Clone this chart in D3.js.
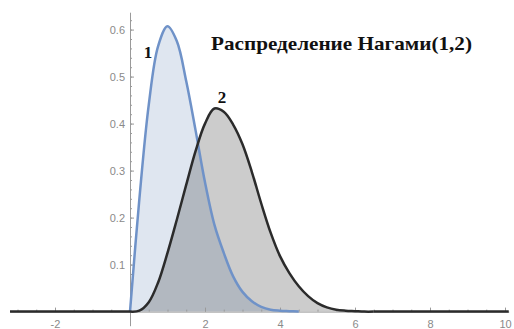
<!DOCTYPE html>
<html>
<head>
<meta charset="utf-8">
<script src="https://cdn.jsdelivr.net/npm/d3@7"></script>
<style>
  body { margin: 0; background: #fff; }
  .tick text { fill: #8a8a8a; font-family: "Liberation Sans", Arial, sans-serif; font-size: 11px; }
  .tick line { stroke: #9a9a9a; }
  .domain { stroke: #9a9a9a; }
  .lbl { font-family: "Liberation Serif", "DejaVu Serif", serif; font-weight: bold; fill: #111; }
</style>
</head>
<body>
<div class="chart" style="width:514px;height:329px"></div>
<script>
// values, x step 0.25 from 0
const xs1 = [0, 0.25, 0.5, 0.75, 1.0, 1.25, 1.5, 1.75, 2.0, 2.25, 2.5, 2.75, 3.0, 3.25, 3.5, 3.75, 4.0, 4.25, 4.5];
const ys1 = [0, 0.24, 0.44, 0.565, 0.607, 0.575, 0.49, 0.385, 0.275, 0.185, 0.125, 0.075, 0.042, 0.022, 0.01, 0.004, 0.002, 0.001, 0];

const xs2 = [0, 0.25, 0.5, 0.75, 1.0, 1.25, 1.5, 1.75, 2.0, 2.25, 2.5, 2.75, 3.0, 3.25, 3.5, 3.75, 4.0, 4.25, 4.5, 4.75, 5.0, 5.25, 5.5, 5.75, 6.0, 6.25, 6.5];
const ys2 = [0, 0.002, 0.02, 0.062, 0.125, 0.196, 0.27, 0.342, 0.4, 0.432, 0.425, 0.398, 0.356, 0.297, 0.23, 0.168, 0.118, 0.082, 0.054, 0.033, 0.018, 0.009, 0.004, 0.002, 0.001, 0, 0];

const xRange = [-3.2, 10.1];
const xTicks = [-2, 2, 4, 6, 8, 10];
const yTicks = [0.1, 0.2, 0.3, 0.4, 0.5, 0.6];
const title = 'Распределение Нагами(1,2)';

const width = 514, height = 329;

let svg = d3.select('.chart')
	.append('svg')
	.attr('width', width)
	.attr('height', height);

const x = d3.scaleLinear().domain(xRange).range([10, 508.75]);
const y = d3.scaleLinear().domain([-0.03, 0.637]).range([325.7, 12.2]);

const pts1 = xs1.map((d, i) => [d, ys1[i]]);
const pts2 = xs2.map((d, i) => [d, ys2[i]]);

const curve = d3.curveCatmullRom.alpha(0.5);

const area = d3.area()
	.x(d => x(d[0]))
	.y0(y(0))
	.y1(d => y(d[1]))
	.curve(curve);

const line = d3.line()
	.x(d => x(d[0]))
	.y(d => y(d[1]))
	.curve(curve);

// fills
svg.append('path').attr('d', area(pts1)).attr('fill', 'rgb(94,129,181)').attr('fill-opacity', 0.2);
svg.append('path').attr('d', area(pts2)).attr('fill', '#000').attr('fill-opacity', 0.2);

// y axis, minor ticks then major
svg.append('g')
	.attr('transform', `translate(${x(0)},0)`)
	.call(d3.axisLeft(y).tickValues(d3.range(1, 32).map(i => i * 0.02)).tickSize(-2).tickFormat(''))
	.call(g => g.select('.domain').remove());
svg.append('g')
	.attr('transform', `translate(${x(0)},0)`)
	.call(d3.axisLeft(y).tickValues(yTicks).tickSize(-4).tickSizeOuter(0).tickPadding(5).tickFormat(d3.format('.1f')));

// x axis
svg.append('g')
	.attr('transform', `translate(0,${y(0)})`)
	.call(d3.axisBottom(x).tickValues(d3.range(-6, 21).map(i => i * 0.5)).tickSize(-2).tickFormat(''))
	.call(g => g.select('.domain').remove());
svg.append('g')
	.attr('transform', `translate(0,${y(0)})`)
	.call(d3.axisBottom(x).tickValues(xTicks).tickSize(-4).tickSizeOuter(0).tickPadding(9).tickFormat(d => d < 0 ? '-' + (-d) : d));

// curves
svg.append('path').attr('d', line(pts1)).attr('fill', 'none')
	.attr('stroke', 'rgb(111,146,200)').attr('stroke-width', 2.5);
svg.append('path').attr('d', line(pts2)).attr('fill', 'none')
	.attr('stroke', '#2b2b2b').attr('stroke-width', 2.5);
// both densities are zero outside their bumps
svg.append('path').attr('d', line([[xRange[0], 0], [0, 0]])).attr('fill', 'none')
	.attr('stroke', '#2b2b2b').attr('stroke-width', 2.5);
svg.append('path').attr('d', line([[6.5, 0], [xRange[1], 0]])).attr('fill', 'none')
	.attr('stroke', '#2b2b2b').attr('stroke-width', 2.5);

// labels
svg.append('text').attr('class', 'lbl').attr('x', 148).attr('y', 58)
	.attr('text-anchor', 'middle').style('font-size', '17px').text('1');
svg.append('text').attr('class', 'lbl').attr('x', 222).attr('y', 103)
	.attr('text-anchor', 'middle').style('font-size', '17px').text('2');
svg.append('text').attr('class', 'lbl').attr('x', 211).attr('y', 50)
	.style('font-size', '19px')
	.attr('textLength', 261).attr('lengthAdjust', 'spacingAndGlyphs')
	.text(title);
</script>
</body>
</html>
